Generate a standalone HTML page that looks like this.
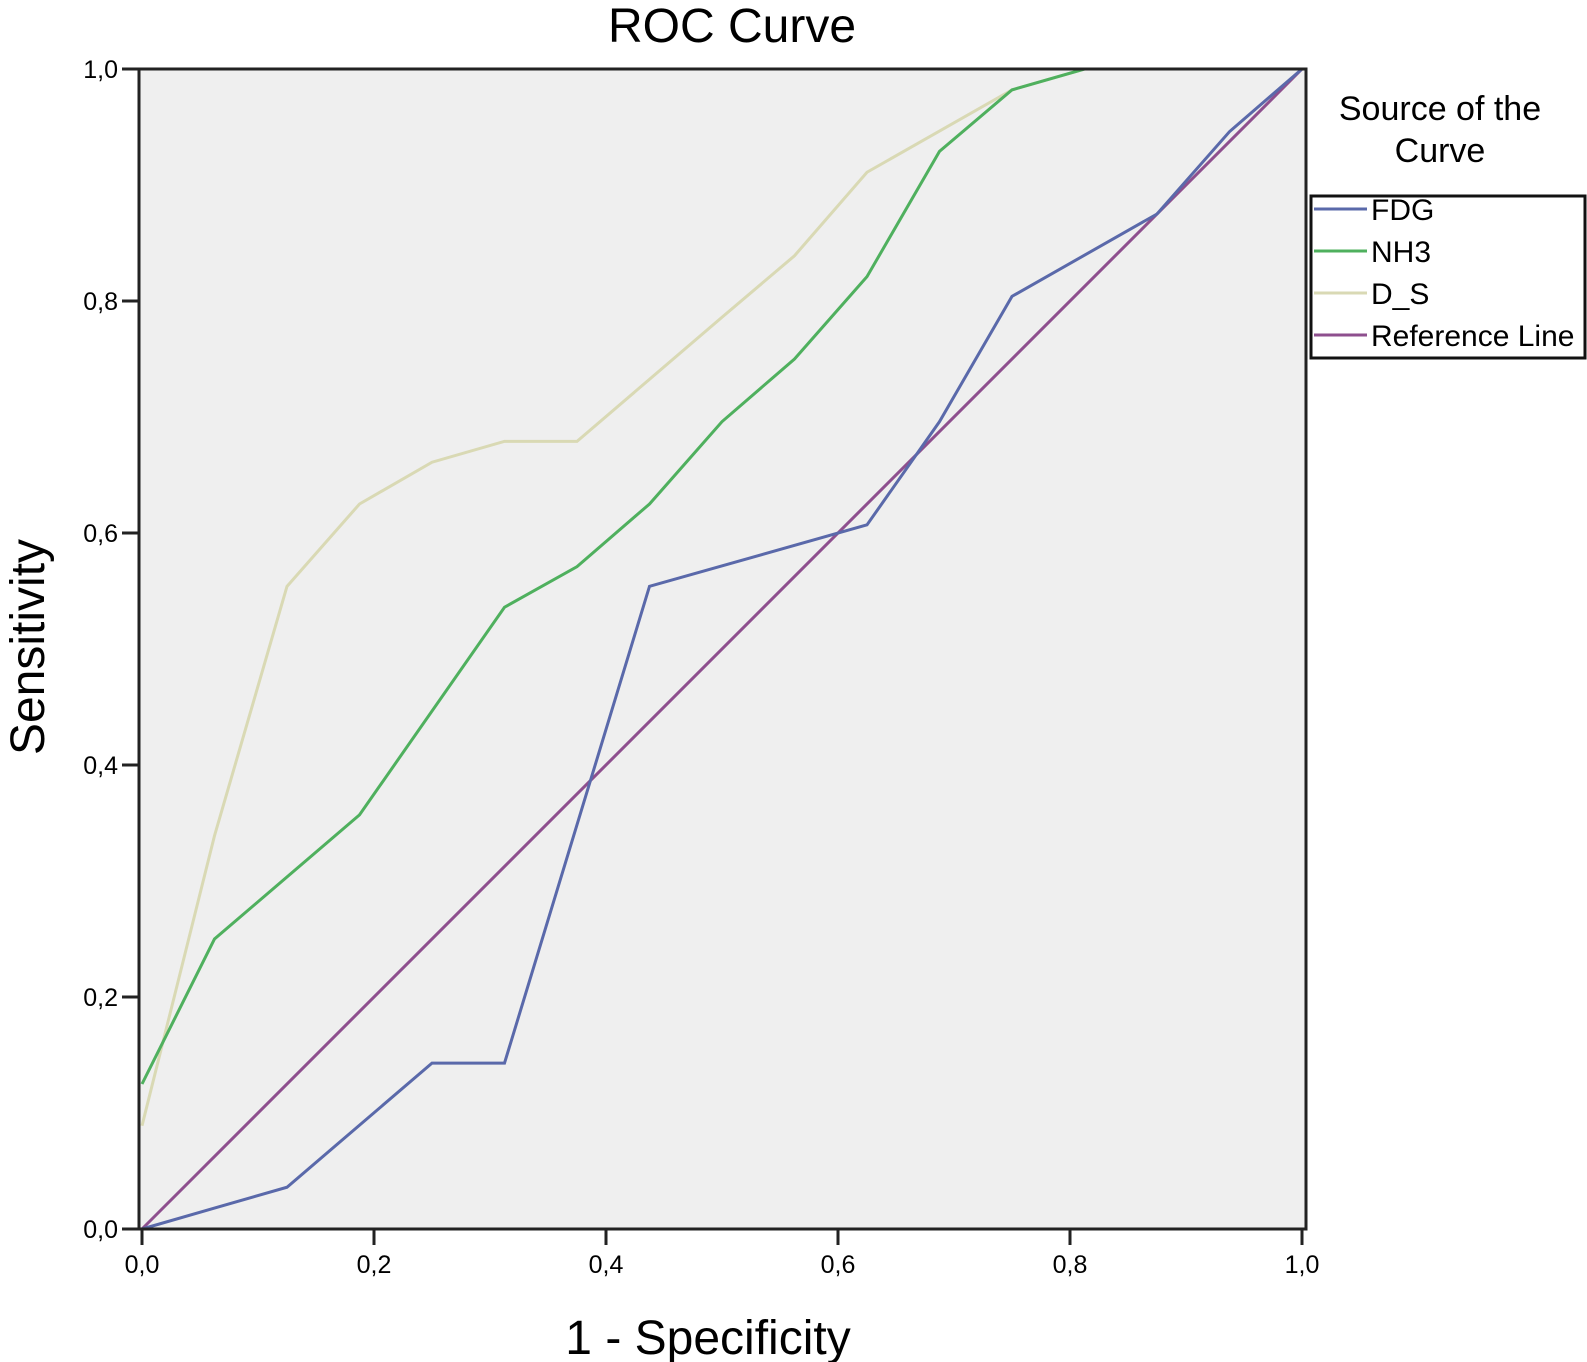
<!DOCTYPE html>
<html><head><meta charset="utf-8"><style>
html,body{margin:0;padding:0;background:#fff;}
svg{display:block;font-family:"Liberation Sans",sans-serif;}
</style></head><body>
<svg id="chart" width="1587" height="1362">
<text x="732" y="42" font-size="48" text-anchor="middle">ROC Curve</text>
<rect x="139" y="69" width="1167" height="1160" fill="#efefef"/>
<g id="ticks"></g>
<g id="lines"></g>
<rect x="139" y="69" width="1167" height="1160" fill="none" stroke="#222" stroke-width="3"/>
<text x="708" y="1354" font-size="48" text-anchor="middle">1 - Specificity</text>
<text transform="translate(44,647) rotate(-90)" font-size="48" text-anchor="middle">Sensitivity</text>
<text x="1440" y="120" font-size="34" text-anchor="middle">Source of the</text>
<text x="1440" y="162" font-size="34" text-anchor="middle">Curve</text>
<rect x="1311" y="196" width="274" height="162" fill="#fff" stroke="#111" stroke-width="3"/>
<g id="legend"></g>
</svg>
<script>
const fdgX=[0,0.0625,0.125,0.25,0.3125,0.4375,0.625,0.6875,0.75,0.875,0.9375,1];
const fdgY=[0,0.018,0.036,0.143,0.143,0.554,0.607,0.696,0.804,0.875,0.946,1];
const nh3X=[0,0.0625,0.1875,0.3125,0.375,0.4375,0.5,0.5625,0.625,0.6875,0.75,0.8125,1];
const nh3Y=[0.125,0.25,0.357,0.536,0.571,0.625,0.696,0.75,0.821,0.929,0.982,1,1];
const dsX=[0,0.0625,0.125,0.1875,0.25,0.3125,0.375,0.5,0.5625,0.625,0.75,0.8125,1];
const dsY=[0.089,0.339,0.554,0.625,0.661,0.679,0.679,0.786,0.839,0.911,0.982,1,1];
const refX=[0,1];
const refY=[0,1];
const tickVals=[0,0.2,0.4,0.6,0.8,1];
const tickLabels=["0,0","0,2","0,4","0,6","0,8","1,0"];
const seriesNames=["FDG","NH3","D_S","Reference Line"];
const NS="http://www.w3.org/2000/svg";
const sx=v=>142+v*1160;
const sy=v=>1229-v*1160;
const tg=document.getElementById('ticks');
tickVals.forEach((v,i)=>{
  let l=document.createElementNS(NS,'line');
  l.setAttribute('x1',sx(v));l.setAttribute('x2',sx(v));l.setAttribute('y1',1229);l.setAttribute('y2',1245);
  l.setAttribute('stroke','#222');l.setAttribute('stroke-width','3');
  
  
  tg.appendChild(l);
  let t=document.createElementNS(NS,'text');
  t.setAttribute('x',sx(v));t.setAttribute('y',1273);t.setAttribute('font-size','25');t.setAttribute('text-anchor','middle');
  t.textContent=tickLabels[i];
  
  
  tg.appendChild(t);
  let l2=document.createElementNS(NS,'line');
  l2.setAttribute('x1',122);l2.setAttribute('x2',139);l2.setAttribute('y1',sy(v));l2.setAttribute('y2',sy(v));
  l2.setAttribute('stroke','#222');l2.setAttribute('stroke-width','3');
  
  
  tg.appendChild(l2);
  let t2=document.createElementNS(NS,'text');
  t2.setAttribute('x',118);t2.setAttribute('y',sy(v)+9);t2.setAttribute('font-size','25');t2.setAttribute('text-anchor','end');
  t2.textContent=tickLabels[i];
  
  
  tg.appendChild(t2);
});
const series=[[refX,refY,'#8e4f8e','reference-line'],[dsX,dsY,'#d9d9b4','ds-line'],[nh3X,nh3Y,'#4fb05e','nh3-line'],[fdgX,fdgY,'#5a69aa','fdg-line']];
const lg=document.getElementById('lines');
series.forEach(s=>{
  let p=document.createElementNS(NS,'polyline');
  p.setAttribute('points',s[0].map((x,i)=>sx(x)+','+sy(s[1][i])).join(' '));
  p.setAttribute('fill','none');p.setAttribute('stroke',s[2]);p.setAttribute('stroke-width','3');
  
  
  lg.appendChild(p);
});
const legCols=['#5a69aa','#4fb05e','#d9d9b4','#8e4f8e'];
const leg=document.getElementById('legend');
seriesNames.forEach((n,i)=>{
  const y=209+i*42;
  let l=document.createElementNS(NS,'line');
  l.setAttribute('x1',1314);l.setAttribute('x2',1367);l.setAttribute('y1',y);l.setAttribute('y2',y);
  l.setAttribute('stroke',legCols[i]);l.setAttribute('stroke-width','3');
  
  
  leg.appendChild(l);
  let t=document.createElementNS(NS,'text');
  t.setAttribute('x',1371);t.setAttribute('y',y+11);t.setAttribute('font-size','30');
  t.textContent=n;
  
  
  leg.appendChild(t);
});
</script>
</body></html>
